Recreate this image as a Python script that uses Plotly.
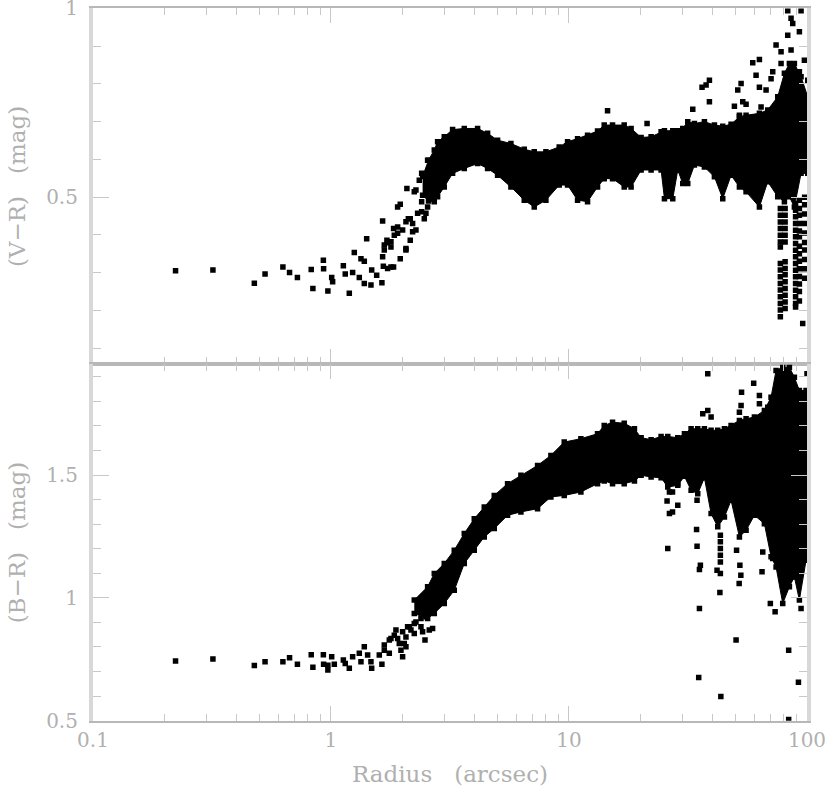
import plotly.graph_objects as go

# ---- V-R panel: values (log10 radius / colour in mag)
vr_log_r = [-.653,-.496,-.322,-.277,-.202,-.174,-.141,-.083,-.076,-.032,-.031,-.013,.003,.007,.052,.060,.077,.091,.098,.119,.126,.140,.140,.150,.168,.171,.192,.214,.217,.217,.220,.224,.238,.238,.252,.252,.263,.263,.280,.280,.291,.291,.315,.315,.333,.333,.319,.357,.357,.381,.381,.399,.399,.406,.434,.434,
            .224,.235,.252,.266,.280,.301,.325,.343,.364,.381,.406,.392,.343,.315,.420,.371,.441,.350,.413,.448,
            1.162,1.328,1.520,1.590,1.576,1.559,1.590,1.723,1.709,1.730,1.695,1.744,1.716,1.772,1.800,1.786,1.800,1.828,1.856,1.849,1.807,1.870,1.891,1.933,1.891,1.919,1.940,1.968,1.919,1.975,1.933,1.989,1.968,2.003,1.982]
vr_val = [.305,.307,.272,.296,.315,.300,.287,.308,.258,.333,.310,.251,.287,.276,.318,.296,.245,.300,.353,.287,.337,.330,.271,.390,.267,.307,.293,.273,.437,.342,.317,.373,.311,.379,.382,.315,.315,.417,.474,.404,.337,.481,.364,.435,.386,.443,.523,.413,.519,.563,.488,.457,.527,.598,.501,.572,
         .360,.386,.368,.399,.421,.413,.443,.430,.457,.461,.474,.443,.408,.360,.514,.545,.527,.514,.558,.598,
         .729,.695,.733,.810,.797,.791,.753,.801,.784,.753,.741,.746,.717,.856,.865,.823,.791,.784,.832,.814,.739,.903,.885,.890,.854,.929,.960,.938,.994,.994,.974,.863,.832,.810,.165]

# dense band of V-R points: upper and lower edge against log10 radius
vr_band_log_r = [.385,.410,.434,.448,.476,.511,.560,.616,.658,.700,.756,.812,.854,.903,.959,.994,1.036,1.078,1.120,1.148,1.183,1.232,1.261,1.303,1.345,1.387,1.401,1.436,1.457,1.478,1.499,1.527,1.569,1.611,1.646,1.681,1.716,1.744,1.800,1.835,1.877,1.905,1.926,1.947,1.975,2.003]
vr_band_top = [.555,.598,.625,.647,.660,.679,.682,.682,.669,.651,.642,.627,.620,.620,.633,.647,.655,.664,.675,.691,.691,.691,.682,.658,.660,.673,.676,.676,.676,.682,.700,.695,.700,.691,.688,.693,.713,.717,.722,.731,.766,.828,.854,.854,.819,.766]
vr_band_bot = [.505,.490,.488,.501,.527,.563,.576,.589,.576,.558,.527,.492,.474,.492,.532,.532,.492,.488,.527,.549,.549,.527,.527,.572,.572,.572,.496,.496,.572,.536,.536,.585,.580,.554,.496,.558,.527,.514,.474,.541,.501,.488,.501,.474,.563,.563]

# columns of points below the V-R band at the largest radii
vr_col_a = [.470,.452,.434,.417,.399,.381,.368,.324,.307,.289,.271,.254,.236,.218,.201,.183]
vr_col_b = [.470,.452,.434,.417,.399,.381,.329,.311,.294,.276,.258,.240,.222,.205]
vr_col_c = [.483,.465,.448,.430,.412,.395,.377,.359,.342,.324,.306,.289,.271,.253,.236,.218,.209]
vr_col_d = [.492,.470,.452,.430,.410,.395,.370,.350,.330,.310,.290,.270,.250,.225]
vr_col_e = [.500,.480,.455,.430,.405,.380,.360,.335,.310,.285]
vr_col_log_r = [1.888,1.908,1.952,1.968,1.990]

# ---- B-R panel
br_log_r = [-.653,-.496,-.322,-.277,-.202,-.174,-.141,-.083,-.076,-.032,-.031,-.013,-.013,.003,.014,.052,.060,.077,.091,.119,.126,.140,.154,.171,.168,.214,.203,.224,.245,.252,.273,.301,.287,.315,.329,.350,.378,.395,.413,
            .224,.245,.266,.280,.301,.308,.322,.294,.315,.336,.357,.378,.371,.392,.413,.399,.385,.427,.350,
            1.583,1.776,1.725,2.0,1.723,1.716,1.800,1.800,1.562,1.583,1.597,1.835,1.415,1.457,1.422,1.435,1.412,1.457,1.422,1.435,1.415,1.538,1.536,1.538,1.552,1.548,1.548,1.545,1.622,1.636,1.636,1.636,1.636,1.636,1.636,1.634,1.638,1.704,1.718,1.722,1.715,1.702,1.814,1.811,1.856,1.846,1.866,1.975,1.923,1.964,1.923,2.003,2.003,2.003,2.003,2.003,2.003]
br_val = [.743,.751,.725,.740,.740,.756,.730,.768,.718,.768,.730,.726,.706,.760,.730,.747,.733,.713,.760,.774,.740,.801,.767,.713,.740,.730,.767,.808,.774,.835,.869,.760,.814,.801,.882,.896,.882,.828,.869,
          .787,.828,.848,.835,.862,.814,.882,.787,.841,.869,.902,.916,.957,.963,.970,.923,.862,.875,.855,
          1.912,1.874,1.837,1.912,1.783,1.756,1.824,1.790,1.749,1.763,1.736,1.776,1.472,1.465,1.431,1.431,1.394,1.377,1.343,1.350,1.201,1.397,1.278,1.210,1.133,1.115,.957,.676,1.112,1.099,1.255,1.228,1.201,1.173,1.146,1.022,.598,1.194,1.133,1.092,1.058,.828,1.187,1.106,1.160,.977,.943,.957,.787,.656,.505,1.289,1.262,1.234,1.207,1.180,1.153]

br_band_log_r = [.350,.406,.434,.476,.518,.560,.602,.644,.686,.742,.798,.868,.924,.980,1.050,1.120,1.148,1.183,1.232,1.275,1.303,1.345,1.387,1.415,1.457,1.485,1.513,1.541,1.569,1.597,1.625,1.653,1.681,1.716,1.744,1.779,1.821,1.849,1.870,1.898,1.926,1.947,1.968,1.996,2.014]
br_band_top = [.991,1.045,1.099,1.140,1.194,1.262,1.322,1.370,1.417,1.465,1.499,1.539,1.580,1.634,1.648,1.668,1.702,1.715,1.711,1.688,1.652,1.644,1.657,1.657,1.652,1.668,1.688,1.688,1.688,1.682,1.682,1.688,1.702,1.722,1.729,1.736,1.763,1.817,1.926,1.939,1.939,1.898,1.844,1.844,1.817]
br_band_bot = [.936,.916,.936,.977,1.031,1.140,1.194,1.248,1.282,1.336,1.350,1.363,1.411,1.417,1.431,1.465,1.476,1.465,1.465,1.476,1.499,1.492,1.489,1.451,1.458,1.495,1.438,1.424,1.489,1.343,1.289,1.329,1.397,1.248,1.275,1.336,1.302,1.167,1.126,.977,1.045,1.085,.991,1.153,1.316]

# tick positions and labels
x_major = [0.1, 1, 10, 100]
x_labels = ["0.1", "1", "10", "100"]
x_minor = [m * d for d in (0.1, 1, 10) for m in (2, 3, 4, 5, 6, 7, 8, 9)]
vr_major, vr_labels = [0.5, 1], ["0.5", "1"]
vr_minor = [.1, .2, .3, .4, .6, .7, .8, .9]
br_major, br_labels = [0.5, 1, 1.5], ["0.5", "1", "1.5"]
br_minor = [.6, .7, .8, .9, 1.1, 1.2, 1.3, 1.4, 1.6, 1.7, 1.8, 1.9]

def radius(logs):
    return [10 ** v for v in logs]

def band(logs, top, bot):
    return radius(logs) + radius(logs[::-1]), top + bot[::-1]

INK = "#000000"
GREY = "#c8c8c8"
TEXT = "#b0b0b0"
FONT = "DejaVu Serif"
marker = dict(symbol="square", size=5.5, color=INK, line=dict(width=0))

fig = go.Figure()

bx, by = band(vr_band_log_r, vr_band_top, vr_band_bot)
fig.add_trace(go.Scatter(x=bx, y=by, mode="lines+markers", fill="toself", fillcolor=INK,
                         line=dict(color=INK, width=1), marker=marker, xaxis="x", yaxis="y"))
fig.add_trace(go.Scatter(x=radius(vr_log_r), y=vr_val, mode="markers", marker=marker, xaxis="x", yaxis="y"))
for lg, col in zip(vr_col_log_r, [vr_col_a, vr_col_b, vr_col_c, vr_col_d, vr_col_e]):
    fig.add_trace(go.Scatter(x=radius([lg] * len(col)), y=col, mode="markers", marker=marker, xaxis="x", yaxis="y"))

bx, by = band(br_band_log_r, br_band_top, br_band_bot)
fig.add_trace(go.Scatter(x=bx, y=by, mode="lines+markers", fill="toself", fillcolor=INK,
                         line=dict(color=INK, width=1), marker=marker, xaxis="x2", yaxis="y2"))
fig.add_trace(go.Scatter(x=radius(br_log_r), y=br_val, mode="markers", marker=marker, xaxis="x2", yaxis="y2"))

def xaxis(show_labels, title=None, **kw):
    return dict(type="log", range=[-1, 2], domain=[.112, .9723], showgrid=False, zeroline=False,
                automargin=False, ticklabeloverflow="allow",
                showline=True, linecolor="#b8b8b8", linewidth=2, mirror="ticks",
                ticks="inside", ticklen=15, tickwidth=1, tickcolor=GREY,
                tickvals=x_major, ticktext=x_labels, showticklabels=show_labels,
                tickfont=dict(family=FONT, size=20, color=TEXT),
                minor=dict(tickvals=x_minor, ticks="inside", ticklen=7, tickcolor=GREY, tickwidth=1, showgrid=False),
                title=dict(text=title, font=dict(family=FONT, size=23, color=TEXT)) if title else None,
                **kw)

def yaxis(rng, dom, major, labels, minor, title, **kw):
    return dict(range=rng, domain=dom, showgrid=False, zeroline=False,
                automargin=False, ticklabeloverflow="allow",
                showline=True, linecolor="#d8d8d8", linewidth=4, mirror="ticks",
                ticks="inside", ticklen=16, tickwidth=1, tickcolor=GREY,
                tickvals=major, ticktext=labels, ticklabelstandoff=7,
                tickfont=dict(family=FONT, size=20, color=TEXT),
                minor=dict(tickvals=minor, ticks="inside", ticklen=8, tickcolor=GREY, tickwidth=1, showgrid=False),
                title=dict(text=title, font=dict(family=FONT, size=23, color=TEXT)),
                **kw)

fig.update_layout(
    width=830, height=791, autosize=False, showlegend=False,
    margin=dict(l=0, r=0, t=0, b=0), paper_bgcolor="white", plot_bgcolor="white",
    xaxis=xaxis(False, anchor="y"),
    yaxis=yaxis([.0565, 1], [.5392, .9893], vr_major, vr_labels, vr_minor, "(V\u2212R)\u00a0\u00a0\u00a0(mag)", anchor="x"),
    xaxis2=xaxis(True, "Radius\u00a0\u00a0\u00a0(arcsec)", anchor="y2"),
    yaxis2=yaxis([.5, 1.95], [.0889, .5392], br_major, br_labels, br_minor, "(B\u2212R)\u00a0\u00a0\u00a0(mag)", anchor="x2"),
)
fig.write_html("out.html", post_script="document.body.style.margin='0';",
               config={"displayModeBar": False})
